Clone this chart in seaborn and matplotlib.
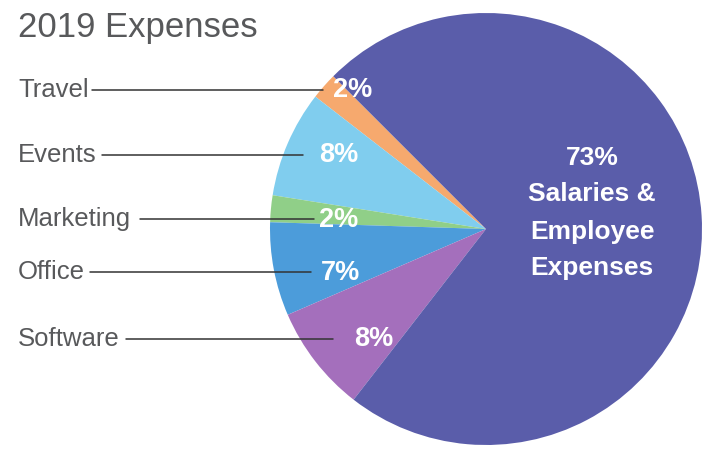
import matplotlib
matplotlib.use("Agg")
import matplotlib.pyplot as plt
import seaborn as sns

# Data (counter-clockwise order starting at the Travel slice)
categories = ["Travel", "Events", "Marketing", "Office", "Software", "Salaries & Employee Expenses"]
values = [2, 8, 2, 7, 8, 73]
colors = ["#F6A96E", "#80CDEE", "#90CF88", "#4C9CDA", "#A46FBC", "#5A5DAA"]
pct_labels = ["2%", "8%", "2%", "7%", "8%", "73%"]
side_labels = ["Travel", "Events", "Marketing", "Office", "Software"]

sns.set_theme(style="white")
plt.rcParams['font.family'] = ['Liberation Sans', 'DejaVu Sans']

W, H = 702, 454
fig = plt.figure(figsize=(W / 100, H / 100), dpi=100)
ax = fig.add_axes([0, 0, 1, 1])

def Y(py):
    return H - py

cx, cy, r = 486, Y(229), 216
ax.pie(values, colors=colors, startangle=135, counterclock=True,
       center=(cx, cy), radius=r, wedgeprops=dict(linewidth=0))
ax.set_xlim(0, W)
ax.set_ylim(0, H)
ax.set_aspect('equal')
ax.axis('off')

# Title
ax.text(18, Y(28), "2019 Expenses", fontsize=25, color="#58595B", ha="left", va="center")

# Side labels with leader lines
label_y = [90, 155, 219, 272, 339]
line_start = [92, 102, 140, 90, 126]
line_end = [323, 303, 314, 311, 333]
for lab, ly, ls, le in zip(side_labels, label_y, line_start, line_end):
    ax.text(18, Y(ly), lab, fontsize=18.5, color="#58595B", ha="left", va="center")
    ax.plot([ls, le], [Y(ly), Y(ly)], color="#333333", lw=1.1)

# Percent labels inside slices
pct_pos = [(353, 90), (339, 155), (339, 220), (340, 273), (374, 339)]
for t, (px, py) in zip(pct_labels[:5], pct_pos):
    ax.text(px, Y(py), t, fontsize=19.5, color="white", fontweight="bold", ha="center", va="center")

main_lines = [pct_labels[5], "Salaries &", "Employee", "Expenses"]
main_y = [158, 194, 232, 268]
for t, py in zip(main_lines, main_y):
    ax.text(592, Y(py), t, fontsize=19, color="white", fontweight="bold", ha="center", va="center")

fig.savefig("out.png", dpi=100, facecolor="white")
